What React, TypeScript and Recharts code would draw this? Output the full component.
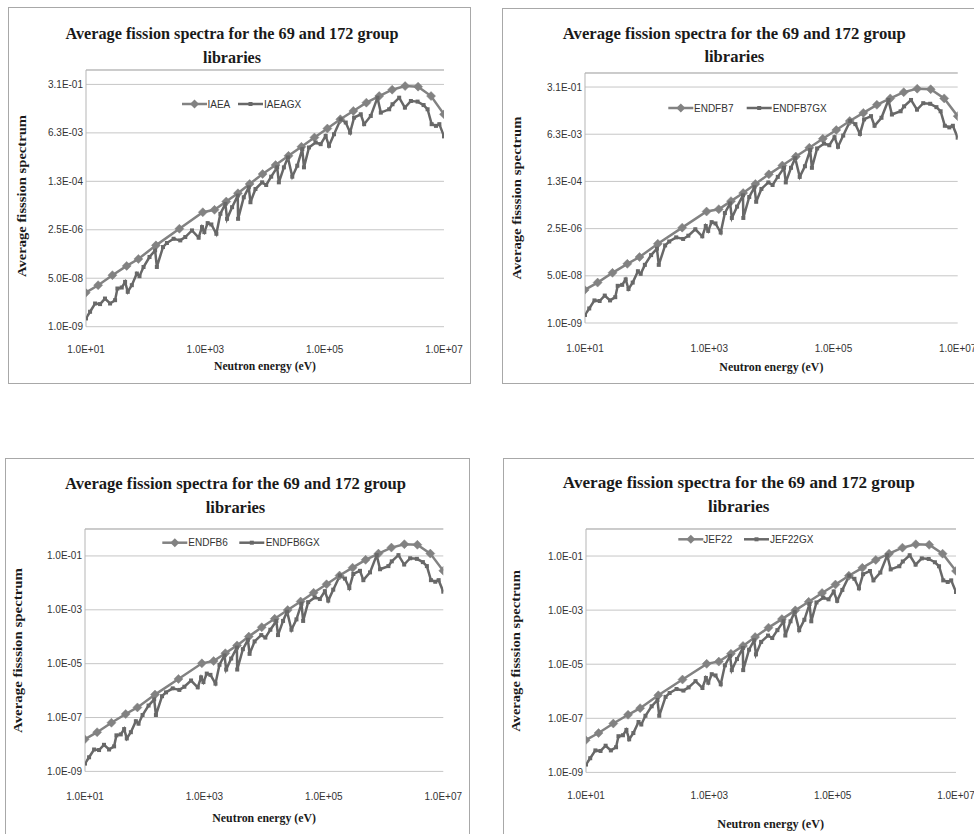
import React from "react";
import { LineChart, Line, XAxis, YAxis, CartesianGrid } from "recharts";

// ---------- data ----------
const libraries = ["IAEA", "ENDFB7", "ENDFB6", "JEF22"];
const gxSuffix = "GX";
const titleLines = ["Average fission spectra for the 69 and 172 group", "libraries"];
const xTitle = "Neutron energy (eV)";
const yTitle = "Average fisssion spectrum";

const xTicks = [10, 1e3, 1e5, 1e7];
const xTickLabels = ["1.0E+01", "1.0E+03", "1.0E+05", "1.0E+07"];
const yTicksBase50 = [1e-9, 5e-8, 2.5e-6, 1.25e-4, 6.25e-3, 3.125e-1];
const yTickLabelsBase50 = ["1.0E-09", "5.0E-08", "2.5E-06", "1.3E-04", "6.3E-03", "3.1E-01"];
const yTicksBase100 = [1e-9, 1e-7, 1e-5, 1e-3, 1e-1];
const yTickLabelsBase100 = ["1.0E-09", "1.0E-07", "1.0E-05", "1.0E-03", "1.0E-01"];

// 69-group library (energy in eV, average fission spectrum)
const energy69 = [9.877, 15.968, 27.7, 48.052, 75.501, 148.73, 367.26, 906.9, 1425.1, 2239.5, 3519.1, 5530, 9118, 15030, 24780, 40850, 67340, 111000, 183000, 302500, 500000, 821000, 1353000, 2231000, 3679000, 6065500, 10000000];
const spectrum69 = [1.55e-8, 2.85e-8, 6.4e-8, 1.35e-7, 2.37e-7, 7.1e-7, 2.71e-6, 1.03e-5, 1.25e-5, 2.44e-5, 4.76e-5, 1.01e-4, 2.25e-4, 4.65e-4, 9.8e-4, 2.03e-3, 4.3e-3, 8.85e-3, 1.87e-2, 3.66e-2, 7.16e-2, 0.122, 0.204, 0.273, 0.26, 0.122, 0.028];

// 172-group (GX) library
const energyGX = [10, 11.7, 14.2, 17.2, 20.8, 25.3, 30.7, 33.6, 39.7, 45.2, 50.1, 58.6, 71.1, 78.8, 92, 116, 144, 154, 195, 227, 294, 380, 461, 597, 773, 879, 962, 1094, 1261, 1531, 1787, 2168, 2312, 2807, 3494, 3540, 4406, 5346, 5700, 6918, 8954, 10470, 12700, 16000, 17070, 20740, 24210, 28640, 34750, 42170, 44980, 54580, 70630, 85700, 104000, 118300, 143500, 185800, 225500, 266800, 311200, 402700, 458400, 592900, 767400, 873000, 1205000, 1371000, 1774000, 2213000, 2788000, 3608000, 4550000, 5310000, 6210000, 7340000, 8360000, 10000000];
const spectrumGX = [1.95e-9, 3.34e-9, 6.5e-9, 6.2e-9, 9.7e-9, 6.5e-9, 8.5e-9, 2.18e-8, 2.36e-8, 3.72e-8, 1.67e-8, 2.85e-8, 7.3e-8, 5.9e-8, 1.24e-7, 2.78e-7, 4.75e-7, 1.24e-7, 6.2e-7, 8.6e-7, 1.21e-6, 1.06e-6, 1.39e-6, 2.37e-6, 1.32e-6, 3.1e-6, 2.07e-6, 4.28e-6, 3.84e-6, 1.81e-6, 9.1e-6, 2.02e-5, 6.05e-6, 1.55e-5, 3.95e-5, 6.05e-6, 3.45e-5, 7.7e-5, 2.31e-5, 6.7e-5, 1.15e-4, 9.3e-5, 1.82e-4, 3.86e-4, 1.15e-4, 3.86e-4, 8.6e-4, 1.82e-4, 4.4e-4, 1.68e-3, 3.86e-4, 1.92e-3, 2.88e-3, 2.51e-3, 4.9e-3, 2.2e-3, 5.6e-3, 1.87e-2, 1.44e-2, 6.4e-3, 2.14e-2, 2.8e-2, 1.26e-2, 2.45e-2, 0.107, 3.2e-2, 4.19e-2, 6.3e-2, 0.107, 4.79e-2, 8.2e-2, 7.8e-2, 5.9e-2, 4.19e-2, 1.26e-2, 1.1e-2, 1.26e-2, 4.7e-3];

const data69 = energy69.map((e, i) => ({ e, v: spectrum69[i] }));
const dataGX = energyGX.map((e, i) => ({ e, v: spectrumGX[i] }));

// ---------- style ----------
const COLOR69 = "#828282";
const COLORGX = "#686868";
const GRID = "#c6c6c6";
const FRAME = "#a8a8a8";
const SANS = "'Liberation Sans', Arial, sans-serif";
const SERIF = "'Liberation Serif', 'Times New Roman', serif";

type Box = { l: number; t: number; r: number; b: number };
type PanelCfg = {
  lib: string;
  frame: Box;
  plot: Box;
  yTicks: number[];
  yLabels: string[];
  titleX: number;
  titleY: [number, number];
  titleW: number;
  xTickMargin: number;
  xTitleY: number;
  xTitleW: number;
  yTitleX: number;
  yTitleY: number;
  yTitleW: number;
  legendY: number;
  legendX: [number, number, number, number];
};

const panels: PanelCfg[] = [
  {
    lib: libraries[0],
    frame: { l: 7.5, t: 7, r: 471, b: 383.5 },
    plot: { l: 86, t: 70, r: 444, b: 326.7 },
    yTicks: yTicksBase50, yLabels: yTickLabelsBase50,
    titleX: 232, titleY: [33.5, 57], titleW: 333,
    xTickMargin: 19, xTitleY: 365.5, xTitleW: 102,
    yTitleX: 21, yTitleY: 196, yTitleW: 162,
    legendY: 104, legendX: [182, 207.5, 238, 264],
  },
  {
    lib: libraries[1],
    frame: { l: 502, t: 8, r: 990, b: 383.5 },
    plot: { l: 585, t: 73.3, r: 957.7, b: 323.3 },
    yTicks: yTicksBase50, yLabels: yTickLabelsBase50,
    titleX: 734.3, titleY: [33.3, 56.7], titleW: 343,
    xTickMargin: 21.5, xTitleY: 367.3, xTitleW: 104,
    yTitleX: 516, yTitleY: 198, yTitleW: 163,
    legendY: 108, legendX: [668.3, 694, 746.7, 772.7],
  },
  {
    lib: libraries[2],
    frame: { l: 5, t: 457.7, r: 470, b: 850 },
    plot: { l: 85, t: 529.3, r: 443.3, b: 771.7 },
    yTicks: yTicksBase100, yLabels: yTickLabelsBase100,
    titleX: 235.5, titleY: [483.3, 507.3], titleW: 341,
    xTickMargin: 21.5, xTitleY: 818.3, xTitleW: 103.7,
    yTitleX: 17, yTitleY: 650.5, yTitleW: 165,
    legendY: 542.7, legendX: [162.3, 188.3, 239.3, 265.7],
  },
  {
    lib: libraries[3],
    frame: { l: 503.3, t: 458, r: 990, b: 850 },
    plot: { l: 585.7, t: 529.3, r: 955.7, b: 772.7 },
    yTicks: yTicksBase100, yLabels: yTickLabelsBase100,
    titleX: 738.8, titleY: [482.7, 506], titleW: 352,
    xTickMargin: 20, xTitleY: 824, xTitleW: 106.7,
    yTitleX: 515, yTitleY: 651, yTitleW: 161.7,
    legendY: 539.3, legendX: [678.3, 703.3, 744, 770],
  },
];

const nearestLabel = (v: number, ticks: number[], labels: string[]) => {
  let best = 0;
  let bd = Infinity;
  ticks.forEach((t, i) => {
    const d = Math.abs(Math.log10(t) - Math.log10(v));
    if (d < bd) { bd = d; best = i; }
  });
  return labels[best];
};

const diamondPath = (cx: number, cy: number, r: number) =>
  `M${cx},${cy - r}L${cx + r},${cy}L${cx},${cy + r}L${cx - r},${cy}Z`;

const DiamondDot = (props: any) => {
  const { cx, cy, index } = props;
  if (cx == null || cy == null || isNaN(cx) || isNaN(cy)) return <g key={`d${index}`} />;
  return <path key={`d${index}`} d={diamondPath(cx, cy, 4.5)} fill={COLOR69} stroke={COLOR69} strokeWidth={0.5} />;
};

const SquareDot = (props: any) => {
  const { cx, cy, index } = props;
  if (cx == null || cy == null || isNaN(cx) || isNaN(cy)) return <g key={`s${index}`} />;
  return <rect key={`s${index}`} x={cx - 2} y={cy - 2} width={4} height={4} fill={COLORGX} />;
};

const YW = 60, TOPH = 10, BOTH = 40, RM = 30;

function PanelChart({ cfg }: { cfg: PanelCfg }) {
  const pw = cfg.plot.r - cfg.plot.l;
  const ph = cfg.plot.b - cfg.plot.t;
  return (
    <div style={{ position: "absolute", left: cfg.plot.l - YW, top: cfg.plot.t - TOPH }}>
      <LineChart width={pw + YW + RM} height={ph + TOPH + BOTH} margin={{ top: 0, right: RM, bottom: 0, left: 0 }}>
        <CartesianGrid xAxisId="bottom" vertical={false} stroke={GRID} strokeWidth={1} />
        <XAxis
          xAxisId="bottom" dataKey="e" type="number" scale="log" domain={[10, 1e7]} allowDataOverflow
          ticks={xTicks} interval={0} orientation="bottom" height={BOTH}
          axisLine={false} tickLine={false} tickSize={0} tickMargin={cfg.xTickMargin}
          tickFormatter={(v: number) => nearestLabel(v, xTicks, xTickLabels)}
          tick={{ fontSize: 10, fill: "#333", fontFamily: SANS }}
        />
        <XAxis
          xAxisId="top" dataKey="e" type="number" scale="log" domain={[10, 1e7]} allowDataOverflow
          ticks={xTicks} interval={0} orientation="top" height={TOPH}
          tick={false} tickLine={{ stroke: "#b5b5b5" }} tickSize={4} axisLine={{ stroke: "#b5b5b5" }}
        />
        <YAxis
          type="number" scale="log" domain={[1e-9, 1]} allowDataOverflow ticks={cfg.yTicks} interval={0}
          width={YW} axisLine={{ stroke: "#b5b5b5" }} tickLine={false} tickSize={1} tickMargin={2}
          tickFormatter={(v: number) => nearestLabel(v, cfg.yTicks, cfg.yLabels)}
          tick={{ fontSize: 10, fill: "#333", fontFamily: SANS }}
        />
        <Line
          xAxisId="bottom" data={data69} dataKey="v" name={cfg.lib} stroke={COLOR69} strokeWidth={2.5}
          dot={DiamondDot} activeDot={false} isAnimationActive={false} type="linear"
        />
        <Line
          xAxisId="bottom" data={dataGX} dataKey="v" name={cfg.lib + gxSuffix} stroke={COLORGX} strokeWidth={2.5}
          dot={SquareDot} activeDot={false} isAnimationActive={false} type="linear"
        />
      </LineChart>
    </div>
  );
}

function PanelText({ cfg }: { cfg: PanelCfg }) {
  const cx = (cfg.plot.l + cfg.plot.r) / 2;
  const [l1, t1, l2, t2] = cfg.legendX;
  const ly = cfg.legendY;
  return (
    <g>
      <text x={cfg.titleX} y={cfg.titleY[0]} textAnchor="middle" dominantBaseline="central"
        fontFamily={SERIF} fontWeight="bold" fontSize={cfg.titleW / 20.7} fill="#1a1a1a"
        textLength={cfg.titleW} lengthAdjust="spacingAndGlyphs">{titleLines[0]}</text>
      <text x={cfg.titleX} y={cfg.titleY[1]} textAnchor="middle" dominantBaseline="central"
        fontFamily={SERIF} fontWeight="bold" fontSize={cfg.titleW / 20.7} fill="#1a1a1a">{titleLines[1]}</text>
      <text x={cx} y={cfg.xTitleY} textAnchor="middle" dominantBaseline="central"
        fontFamily={SERIF} fontWeight="bold" fontSize={12} fill="#1a1a1a"
        textLength={cfg.xTitleW} lengthAdjust="spacingAndGlyphs">{xTitle}</text>
      <text x={cfg.yTitleX} y={cfg.yTitleY} textAnchor="middle" dominantBaseline="central"
        transform={`rotate(-90 ${cfg.yTitleX} ${cfg.yTitleY})`}
        fontFamily={SERIF} fontWeight="bold" fontSize={13} fill="#1a1a1a"
        textLength={cfg.yTitleW} lengthAdjust="spacingAndGlyphs">{yTitle}</text>
      {/* legend */}
      <line x1={l1} x2={l1 + 25} y1={ly} y2={ly} stroke={COLOR69} strokeWidth={2.5} />
      <path d={diamondPath(l1 + 12.5, ly, 4.5)} fill={COLOR69} />
      <text x={t1} y={ly} dominantBaseline="central" fontFamily={SANS} fontSize={10} fill="#333">{cfg.lib}</text>
      <line x1={l2} x2={l2 + 25} y1={ly} y2={ly} stroke={COLORGX} strokeWidth={2.5} />
      <rect x={l2 + 12.5 - 2} y={ly - 2} width={4} height={4} fill={COLORGX} />
      <text x={t2} y={ly} dominantBaseline="central" fontFamily={SANS} fontSize={10} fill="#333">{cfg.lib + gxSuffix}</text>
    </g>
  );
}

export default function App() {
  return (
    <div style={{ position: "absolute", left: 0, top: 0, width: 974, height: 834, overflow: "hidden", background: "#fff" }}>
      {panels.map((p) => (
        <div key={"f" + p.lib} style={{
          position: "absolute", left: p.frame.l, top: p.frame.t,
          width: p.frame.r - p.frame.l, height: p.frame.b - p.frame.t,
          border: `1px solid ${FRAME}`, boxSizing: "border-box",
        }} />
      ))}
      {panels.map((p) => <PanelChart key={"c" + p.lib} cfg={p} />)}
      <svg width={974} height={834} style={{ position: "absolute", left: 0, top: 0, pointerEvents: "none" }}>
        {panels.map((p) => <PanelText key={"t" + p.lib} cfg={p} />)}
      </svg>
    </div>
  );
}
